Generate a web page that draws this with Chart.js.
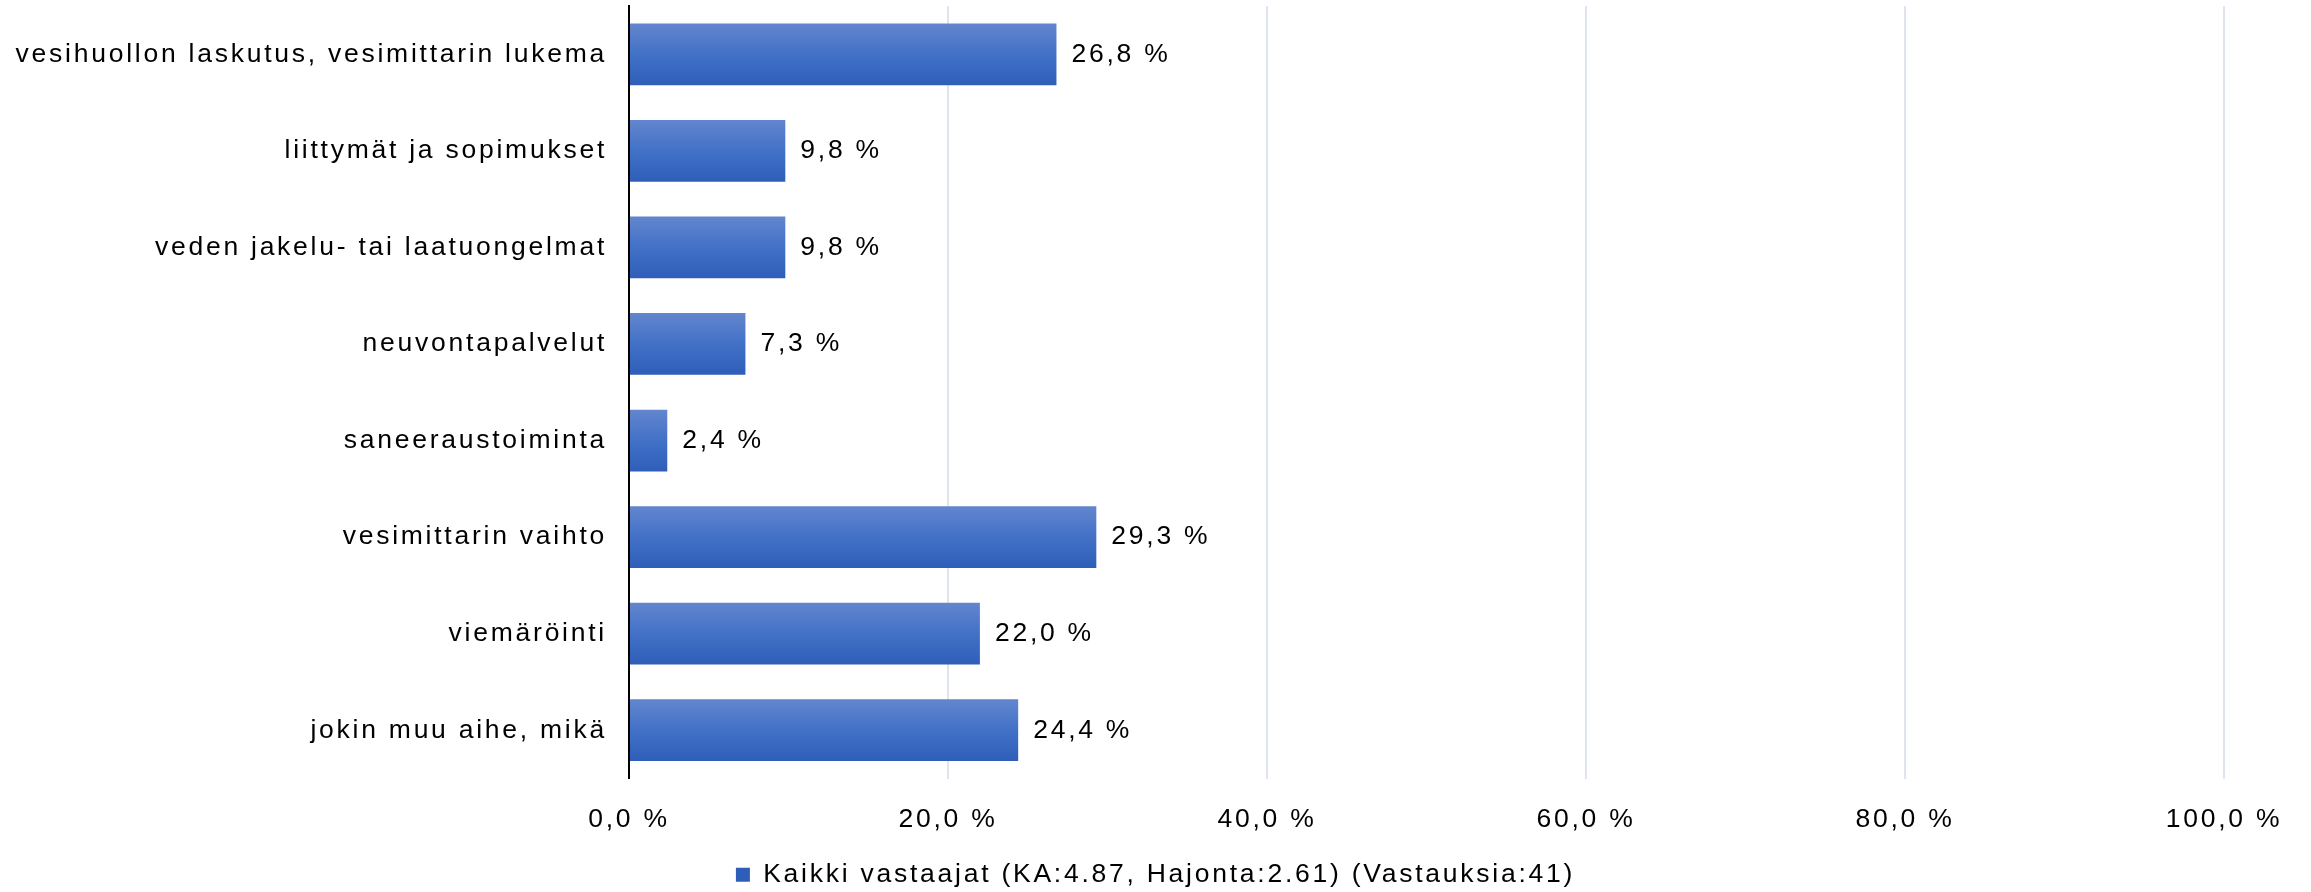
<!DOCTYPE html>
<html>
<head>
<meta charset="utf-8">
<script src="https://cdn.jsdelivr.net/npm/chart.js@4.4.1/dist/chart.umd.min.js"></script>
<style>
  html, body { margin: 0; padding: 0; background: #fff; }
  #wrap { width: 2311px; height: 892px; }
</style>
</head>
<body>
<div id="wrap"><canvas id="chart"></canvas></div>
<script>
const categories = [
  "vesihuollon laskutus, vesimittarin lukema",
  "liittymät ja sopimukset",
  "veden jakelu- tai laatuongelmat",
  "neuvontapalvelut",
  "saneeraustoiminta",
  "vesimittarin vaihto",
  "viemäröinti",
  "jokin muu aihe, mikä"
];
const values = [26.8, 9.8, 9.8, 7.3, 2.4, 29.3, 22.0, 24.4];
const tickLabels = ["0,0 %", "20,0 %", "40,0 %", "60,0 %", "80,0 %", "100,0 %"];
const seriesName = "Kaikki vastaajat (KA:4.87, Hajonta:2.61) (Vastauksia:41)";

const FONT = "'Liberation Sans', Arial, sans-serif";
const FONT_SIZE = 26.5;

// gradient per bar, top lighter -> bottom darker
function barFill(c) {
  const chart = c.chart;
  const y = chart.scales.y;
  if (!y || c.dataIndex === undefined) return "#4270c6";
  const center = y.getPixelForValue(c.dataIndex);
  const half = (y.height / categories.length) * 0.64 / 2;
  if (!isFinite(center) || !isFinite(half) || half <= 0) return "#4270c6";
  const g = chart.ctx.createLinearGradient(0, center - half, 0, center + half);
  g.addColorStop(0, "#6386ce");
  g.addColorStop(0.5, "#4271c7");
  g.addColorStop(1, "#2e5eb8");
  return g;
}

const spacing = {
  id: "spacing",
  beforeUpdate(chart) { chart.ctx.letterSpacing = "2.75px"; },
  beforeDraw(chart) { chart.ctx.letterSpacing = "2.75px"; }
};

const valueLabels = {
  id: "valueLabels",
  afterDatasetsDraw(chart) {
    const ctx = chart.ctx;
    const meta = chart.getDatasetMeta(0);
    ctx.save();
    ctx.font = FONT_SIZE + "px " + FONT;
    ctx.fillStyle = "#000";
    ctx.textAlign = "left";
    ctx.textBaseline = "middle";
    meta.data.forEach((bar, i) => {
      ctx.fillText(values[i].toFixed(1).replace(".", ",") + " %", bar.x + 15, bar.y);
    });
    ctx.restore();
  }
};

const ctx = document.getElementById("chart").getContext("2d");
const myChart = new Chart(ctx, {
  type: "bar",
  data: {
    labels: categories,
    datasets: [
      {
        label: seriesName,
        data: values,
        backgroundColor: barFill,
        borderWidth: 0,
        categoryPercentage: 0.8,
        barPercentage: 0.8
      }
    ]
  },
  options: {
    indexAxis: "y",
    responsive: true,
    maintainAspectRatio: false,
    animation: false,
    layout: { padding: { left: 0, right: 0, top: 6, bottom: -6 } },
    plugins: {
      legend: {
        position: "bottom",
        labels: {
          color: "#000",
          font: { family: FONT, size: FONT_SIZE },
          boxWidth: 14,
          boxHeight: 14,
          padding: 2
        }
      },
      tooltip: { enabled: false }
    },
    scales: {
      x: {
        min: 0,
        max: 100,
        ticks: {
          stepSize: 20,
          color: "#000",
          font: { family: FONT, size: FONT_SIZE },
          padding: 25,
          maxRotation: 0,
          callback: function (value, index) {
            return tickLabels[index];
          }
        },
        grid: {
          color: "#dfe5ef",
          lineWidth: 2,
          drawTicks: false
        },
        border: { display: false },
        afterFit: function (scale) {
          scale.height = 81;
          scale.paddingRight = 87;
        }
      },
      y: {
        ticks: {
          color: "#000",
          font: { family: FONT, size: FONT_SIZE },
          padding: 22
        },
        grid: { display: false, drawTicks: false },
        border: { display: true, color: "#000", width: 2 },
        afterFit: function (scale) {
          scale.width = 629;
          scale.paddingTop = 0;
          scale.paddingBottom = 0;
        }
      }
    }
  },
  plugins: [spacing, valueLabels]
});
</script>
</body>
</html>
